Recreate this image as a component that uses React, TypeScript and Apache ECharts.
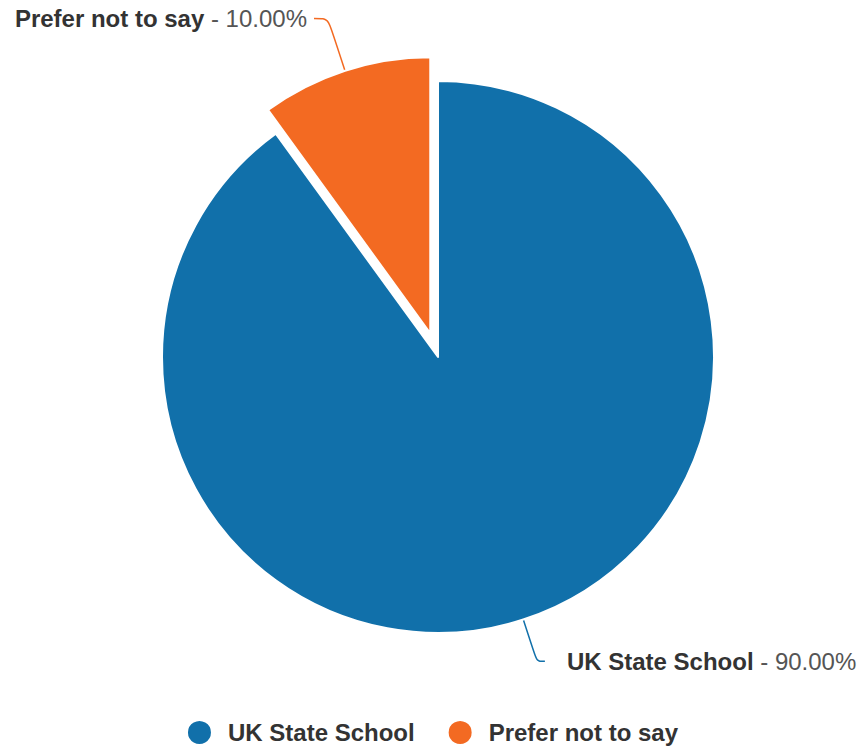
import React, { useEffect, useRef } from "react";
import * as echarts from "echarts";

const categories = ["UK State School", "Prefer not to say"];
const values = [90, 10];
const colors = ["#1170aa", "#f36a22"];

export default function App() {
  const ref = useRef<HTMLDivElement>(null);
  useEffect(() => {
    if (!ref.current) return;
    const chart = echarts.init(ref.current, null, { renderer: "svg" });
    const font = "'Liberation Sans', Arial, sans-serif";
    chart.setOption({
      animation: false,
      backgroundColor: "#ffffff",
      color: colors,
      legend: {
        data: categories,
        left: "center",
        top: 719,
        padding: 0,
        icon: "circle",
        itemWidth: 25,
        itemHeight: 25,
        itemGap: 32,
        selectedMode: false,
        textStyle: {
          fontFamily: font,
          fontSize: 24,
          fontWeight: "bold",
          color: "#333333",
          padding: [0, 0, 0, 11],
        },
      },
      series: [
        {
          type: "pie",
          center: [438, 357],
          radius: 276,
          startAngle: 90,
          clockwise: true,
          selectedMode: "single",
          selectedOffset: 25,
          avoidLabelOverlap: false,
          itemStyle: { borderColor: "#ffffff", borderWidth: 2 },
          emphasis: { disabled: true },
          label: {
            show: true,
            position: "outside",
            fontFamily: font,
            formatter: (p: any) => `{b|${p.name}}{v| - ${p.percent.toFixed(2)}%}`,
            rich: {
              b: { fontFamily: font, fontSize: 24, fontWeight: "bold", color: "#333333" },
              v: { fontFamily: font, fontSize: 24, color: "#555555" },
            },
          },
          labelLine: { show: true, smooth: 0.3, lineStyle: { width: 1.5 } },
          data: [
            {
              name: categories[0],
              value: values[0],
              label: { distanceToLabelLine: 22 },
              labelLine: { length: 44, length2: 8 },
            },
            {
              name: categories[1],
              value: values[1],
              selected: true,
              label: { distanceToLabelLine: 7 },
              labelLine: { length: 55, length2: 14 },
            },
          ],
        },
      ],
    });
    return () => chart.dispose();
  }, []);
  return (
    <div
      ref={ref}
      style={{ position: "fixed", left: 0, top: 0, width: 864, height: 749 }}
    />
  );
}
